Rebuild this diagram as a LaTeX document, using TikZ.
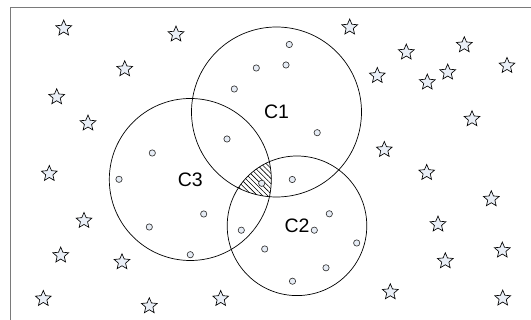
\documentclass[tikz,border=0pt]{standalone}
\usepackage{fontspec}
\setmainfont{Liberation Sans}
\usetikzlibrary{shapes.geometric,patterns.meta}
\definecolor{framegray}{HTML}{7A7A7A}
\definecolor{dotfill}{HTML}{E6ECF5}
\definecolor{starfill}{HTML}{EAEFF7}
\tikzset{
  cluster/.style={circle,draw=black,line width=0.7pt,inner sep=0pt,font=\fontsize{19.5}{20}\selectfont},
  dot/.style={circle,draw=black!80,fill=dotfill,line width=0.65pt,minimum size=6.3pt,inner sep=0pt},
  outlier/.style={star,star points=5,star point ratio=2.2,draw=black,fill=starfill,line width=0.65pt,minimum size=16.5pt,inner sep=0pt},
  hatch/.style={pattern={Lines[angle=-45,distance=3.6pt,line width=0.6pt]},pattern color=black}
}
\begin{document}
\begin{tikzpicture}[x=1pt,y=-1pt]
  \useasboundingbox (0,0) rectangle (531,320);
  % frame
  \draw[framegray,line width=1.3pt] (10.6,320) -- (10.6,7.3) -- (531,7.3);

  % hatched triple overlap
  \begin{scope}
    \clip (276.5,112) circle (85);
    \clip (190.3,179.5) circle (81);
    \fill[hatch] (297,225.8) circle (69.8);
  \end{scope}

  % clusters
  \node[cluster,minimum size=170pt] (c1) at (276.5,112) {C1};
  \node[cluster,minimum size=162pt] (c3) at (190.3,179.5) {C3};
  \node[cluster,minimum size=139.6pt] (c2) at (297,225.8) {C2};

  % member points
  \foreach \x/\y [count=\i] in {
    289.3/44.5, 256.3/68, 286/65, 234.3/89, 317.2/132.7, 227/139,
    152.3/153, 119/179.3, 203.7/214, 149.3/227, 190.3/254.7, 241.3/230.2,
    292.3/179.5, 261.7/183.3, 329.3/213.8, 314.3/230.2, 264.7/249,
    356.7/243, 326/267.8, 292.5/281.2}
    \node[dot] (p\i) at (\x,\y) {};

  % noise points
  \foreach \x/\y [count=\i] in {
    63.7/28.3, 176/34.3, 124.7/69, 56.7/97, 88/123.3,
    349.7/27.3, 406.3/52.3, 464.3/45, 507/65.7, 377.3/75.7, 447.7/72.3,
    427.3/82.3, 472/119, 384.3/149.7,
    49.3/173.7, 84/220.7, 60.7/255.3, 122/262, 43.3/298.7, 149.3/306, 220.7/298.7,
    426.7/172.7, 491.3/199, 438/224.3, 502.3/250.3, 445.3/261, 390.3/292, 502.7/298.3}
    \node[outlier] (s\i) at (\x,\y) {};
\end{tikzpicture}
\end{document}
